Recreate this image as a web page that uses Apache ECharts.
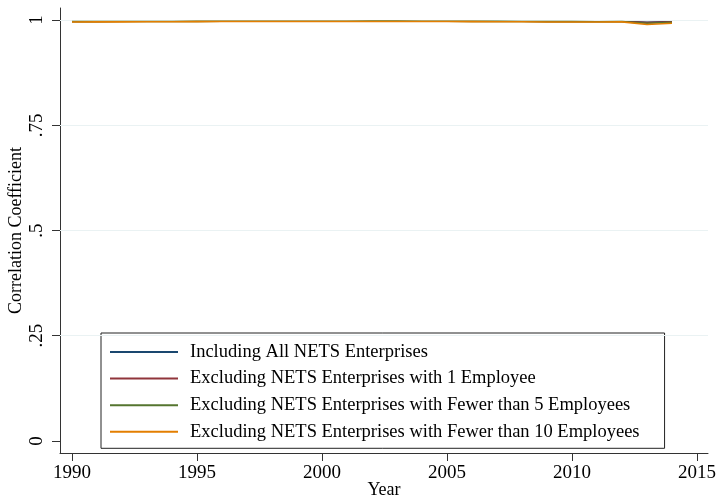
<!DOCTYPE html>
<html>
<head>
<meta charset="utf-8">
<script src="https://cdn.jsdelivr.net/npm/echarts@6/dist/echarts.min.js"></script>
<style>
  html, body { margin: 0; padding: 0; background: #fff; }
  #chart { width: 717px; height: 500px; }
</style>
</head>
<body>
<div id="chart"></div>
<script>
// Years covered by the correlation series
const years = [1990,1991,1992,1993,1994,1995,1996,1997,1998,1999,2000,2001,2002,
               2003,2004,2005,2006,2007,2008,2009,2010,2011,2012,2013,2014];

// Correlation coefficients for each sample definition
const allNets = [0.9972,0.9973,0.9974,0.9975,0.9977,0.9979,0.9981,0.9981,0.9981,0.9982,0.9982,0.9982,0.9983,
                 0.9983,0.9982,0.9981,0.9979,0.9978,0.9976,0.9972,0.9972,0.9971,0.9973,0.9948,0.9962];
const excl1 =   [0.9968,0.9969,0.9970,0.9971,0.9973,0.9975,0.9977,0.9977,0.9977,0.9978,0.9978,0.9978,0.9979,
                 0.9979,0.9978,0.9977,0.9975,0.9974,0.9972,0.9968,0.9968,0.9967,0.9969,0.9938,0.9956];
const excl5 =   [0.9962,0.9963,0.9964,0.9965,0.9967,0.9969,0.9971,0.9971,0.9971,0.9972,0.9972,0.9972,0.9973,
                 0.9973,0.9972,0.9971,0.9969,0.9968,0.9966,0.9962,0.9962,0.9961,0.9963,0.9925,0.9948];
const excl10 =  [0.9955,0.9956,0.9957,0.9958,0.9960,0.9962,0.9964,0.9964,0.9964,0.9965,0.9965,0.9965,0.9966,
                 0.9966,0.9965,0.9964,0.9962,0.9961,0.9959,0.9955,0.9955,0.9954,0.9956,0.9895,0.9922];

const seriesNames = [
  'Including All NETS Enterprises',
  'Excluding NETS Enterprises with 1 Employee',
  'Excluding NETS Enterprises with Fewer than 5 Employees',
  'Excluding NETS Enterprises with Fewer than 10 Employees'
];
const seriesColors = ['#1a476f', '#90353b', '#55752f', '#e37e00'];

// Axis tick positions
const xTicks = [1990, 1995, 2000, 2005, 2010, 2015];
const yTicks = [0, 0.25, 0.5, 0.75, 1];
const yTickLabels = {0: '0', 0.25: '.25', 0.5: '.5', 0.75: '.75', 1: '1'};
const yGridLines = [0.25, 0.5, 0.75, 1];

const FONT = '"Liberation Serif", "Times New Roman", serif';
const AXIS_COLOR = '#333333';

const seriesData = [allNets, excl1, excl5, excl10];
const series = seriesData.map((vals, i) => ({
  name: seriesNames[i],
  type: 'line',
  data: years.map((y, k) => [y, vals[k]]),
  showSymbol: false,
  symbol: 'none',
  smooth: false,
  lineStyle: { color: seriesColors[i], width: 1.6 },
  itemStyle: { color: seriesColors[i] },
  z: 3 + i,
  animation: false
}));

// Light horizontal grid lines at the labelled y values
series.push({
  type: 'line',
  data: [],
  silent: true,
  animation: false,
  z: 1,
  markLine: {
    silent: true,
    symbol: 'none',
    label: { show: false },
    lineStyle: { color: '#eaf2f3', width: 1, type: 'solid' },
    data: yGridLines.map(v => ({ yAxis: v }))
  }
});

const chart = echarts.init(document.getElementById('chart'), null, { renderer: 'canvas' });
chart.setOption({
  backgroundColor: '#ffffff',
  animation: false,
  grid: { left: 60, right: 9, top: 8, bottom: 47, containLabel: false, outerBoundsMode: 'none' },
  xAxis: {
    type: 'value',
    min: 1989.52,
    max: 2015.44,
    name: 'Year',
    nameLocation: 'middle',
    nameGap: 28,
    nameMoveOverlap: false,
    nameTextStyle: { fontFamily: FONT, fontSize: 18, color: '#000' },
    axisLine: { show: true, onZero: false, lineStyle: { color: AXIS_COLOR, width: 1 } },
    axisTick: { show: true, length: 8, customValues: xTicks, lineStyle: { color: AXIS_COLOR } },
    axisLabel: {
      customValues: xTicks,
      margin: 11,
      fontFamily: FONT, fontSize: 19, color: '#000',
      formatter: v => String(v)
    },
    splitLine: { show: false }
  },
  yAxis: {
    type: 'value',
    min: -0.0286,
    max: 1.0286,
    name: 'Correlation Coefficient',
    nameLocation: 'middle',
    nameRotate: 90,
    nameGap: 35,
    nameMoveOverlap: false,
    nameTextStyle: { fontFamily: FONT, fontSize: 18, color: '#000' },
    axisLine: { show: true, onZero: false, lineStyle: { color: AXIS_COLOR, width: 1 } },
    axisTick: { show: true, length: 8, customValues: yTicks, lineStyle: { color: AXIS_COLOR } },
    axisLabel: {
      customValues: yTicks,
      rotate: 90,
      margin: 13,
      fontFamily: FONT, fontSize: 19, color: '#000',
      formatter: v => yTickLabels[v] !== undefined ? yTickLabels[v] : ''
    },
    splitLine: { show: false }
  },
  legend: {
    data: seriesNames,
    orient: 'vertical',
    left: 101,
    top: 333,
    padding: [9.5, 25, 7, 9],
    itemGap: 7.6,
    itemWidth: 68,
    itemHeight: 2,
    icon: 'rect',
    borderColor: '#222',
    borderWidth: 1,
    backgroundColor: '#fff',
    selectedMode: false,
    textStyle: { fontFamily: FONT, fontSize: 18.5, color: '#000', lineHeight: 16.5, padding: [0, 0, 0, 7] }
  },
  series: series
});
</script>
</body>
</html>
